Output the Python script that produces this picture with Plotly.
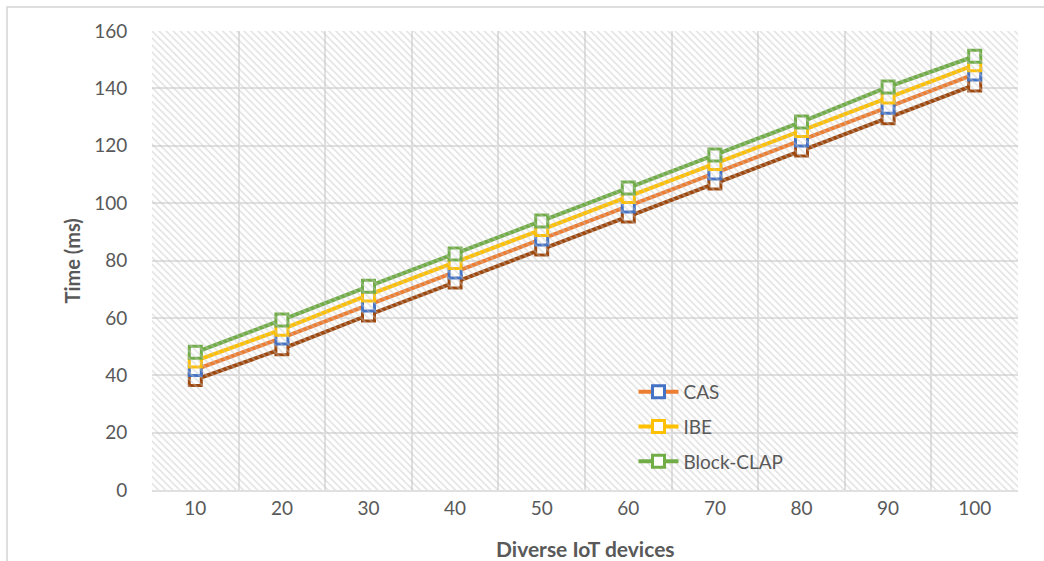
import plotly.graph_objects as go

devices = ["10", "20", "30", "40", "50", "60", "70", "80", "90", "100"]
base_series = [38.5, 49.2, 61.0, 72.5, 84.0, 95.5, 107.0, 118.5, 129.8, 141.2]
cas = [42.0, 53.0, 64.5, 76.0, 87.5, 99.0, 110.5, 122.0, 133.4, 145.0]
ibe = [45.0, 56.0, 68.0, 79.3, 90.8, 102.3, 113.8, 125.3, 137.0, 148.2]
block_clap = [48.0, 59.3, 71.0, 82.3, 93.8, 105.3, 116.8, 128.3, 140.5, 151.2]
y_ticks = [0, 20, 40, 60, 80, 100, 120, 140, 160]

FONT = "Lato"
TXT = "#595959"
GRID = "#e0e0e0"

fig = go.Figure()

# hatched plot-area background (transparent so gridlines show through)
fig.add_trace(go.Bar(
    x=[0.5], y=[1], width=[1], xaxis="x2", yaxis="y2",
    marker=dict(color="rgba(0,0,0,0)", line_width=0,
                pattern=dict(shape="\\", fgcolor="#c4c4c4", bgcolor="rgba(0,0,0,0)",
                             size=5, solidity=0.3, fillmode="overlay")),
    showlegend=False, hoverinfo="skip"))

def add_series(name, ys, line_color, marker_color, show):
    fig.add_trace(go.Scatter(
        x=devices, y=ys, name=name, mode="lines+markers",
        line=dict(color=line_color, width=4),
        marker=dict(symbol="square", size=12, color="white",
                    line=dict(color=marker_color, width=3)),
        showlegend=show, legendgroup=name))

add_series("Series", base_series, "#9E480E", "#9E480E", False)
add_series("CAS", cas, "#ED7D31", "#4472C4", True)
add_series("IBE", ibe, "#FFC000", "#FFC000", True)
add_series("Block-CLAP", block_clap, "#70AD47", "#70AD47", True)

fig.update_layout(
    width=1044, height=561,
    margin=dict(l=152, r=26, t=31, b=71),
    paper_bgcolor="white", plot_bgcolor="rgba(0,0,0,0)",
    font=dict(family=FONT, color=TXT, size=19),
    xaxis=dict(type="category", tickson="boundaries", showgrid=True, gridcolor=GRID,
               gridwidth=1.5, ticks="outside", ticklen=18, tickcolor="rgba(0,0,0,0)",
               showline=True, linecolor=GRID, linewidth=1.5, zeroline=False,
               tickfont=dict(size=19, color=TXT), range=[-0.5, 9.5]),
    yaxis=dict(range=[0, 160], tickvals=y_ticks, showgrid=True, gridcolor=GRID,
               gridwidth=1.5, ticks="outside", ticklen=20, tickcolor="rgba(0,0,0,0)",
               zeroline=False, showline=False, tickfont=dict(size=19, color=TXT)),
    xaxis2=dict(overlaying="x", range=[0, 1], visible=False),
    yaxis2=dict(overlaying="y", range=[0, 1], visible=False),
    barmode="overlay",
    legend=dict(x=0.556, y=0.255, xanchor="left", yanchor="top",
                bgcolor="rgba(0,0,0,0)", font=dict(size=19, color=TXT),
                tracegroupgap=7, itemwidth=40),
    showlegend=True,
    annotations=[
        dict(text="<b>Time (ms)</b>", xref="paper", yref="paper", x=-0.0924, y=0.5,
             xanchor="center", yanchor="middle", textangle=-90, showarrow=False,
             font=dict(size=20, color=TXT, family=FONT)),
        dict(text="<b>Diverse IoT devices</b>", xref="paper", yref="paper", x=0.5, y=-0.1285,
             xanchor="center", yanchor="middle", showarrow=False,
             font=dict(size=21, color=TXT, family=FONT)),
    ],
    shapes=[
        dict(type="rect", xref="paper", yref="paper", x0=-0.1674, x1=1.1, y0=-0.3, y1=1.0523,
             line=dict(color="#d4d4d4", width=1.5), fillcolor="rgba(0,0,0,0)", layer="below"),
    ],
)

fig.write_html("out.html")
